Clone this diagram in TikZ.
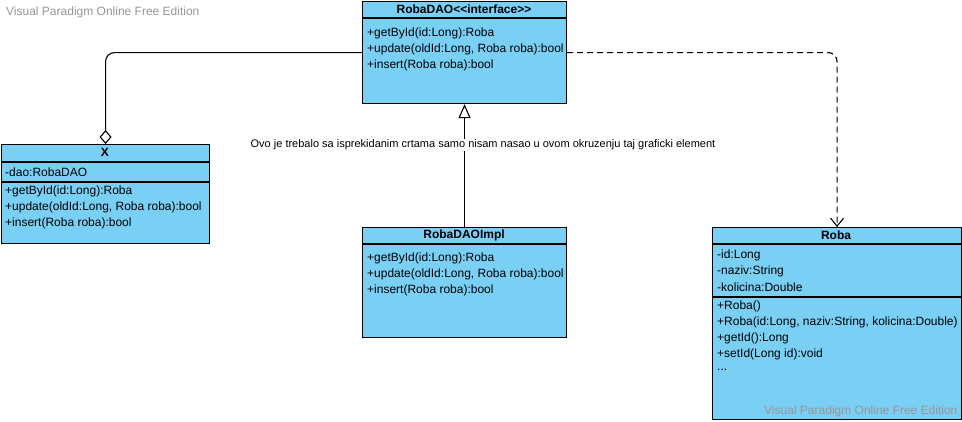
\documentclass[tikz,border=0pt]{standalone}
\usepackage{fontspec}
\setmainfont{Liberation Sans}
\usepackage{tikz}
\usetikzlibrary{arrows.meta,positioning}
\definecolor{classblue}{RGB}{122,207,245}
\definecolor{markgray}{RGB}{150,150,150}

\begin{document}
\begin{tikzpicture}[x=1pt,
            y=-1pt,
            classbox/.style={draw,line width=1.1pt,fill=classblue,anchor=north west,inner sep=0pt},
            classname/.style={font=\fontsize{12}{14}\selectfont\bfseries,inner sep=0pt},
            member/.style={font=\fontsize{12}{14}\selectfont,anchor=west,inner sep=0pt},
            divider/.style={line width=1.1pt},
            note/.style={font=\fontsize{11}{13}\selectfont,fill=white,inner sep=1pt},
            watermark/.style={font=\fontsize{12}{14}\selectfont,text=markgray,anchor=west,inner sep=0pt}]

        \useasboundingbox (0,0) rectangle (962,421);

        \node[watermark] (mark1) at (6,12) {Visual Paradigm Online Free Edition};

        % classes
        \node[classbox,minimum width=204pt,minimum height=102pt] (dao)  at (362,1)   {};
        \node[classbox,minimum width=208pt,minimum height=99pt]  (x)    at (1,144)   {};
        \node[classbox,minimum width=204pt,minimum height=110pt] (impl) at (362,227) {};
        \node[classbox,minimum width=249pt,minimum height=192pt] (roba) at (712,227) {};

        \draw[divider] (362,18)  -- (566,18);
        \draw[divider] (1,162)   -- (209,162);
        \draw[divider] (1,182)   -- (209,182);
        \draw[divider] (362,244) -- (566,244);
        \draw[divider] (712,244) -- (961,244);
        \draw[divider] (712,297) -- (961,297);

        \node[classname] (daoname)  at (464,9)   {RobaDAO<\kern0pt<interface>\kern0pt>};
        \node[classname] (xname)    at (105,152) {X};
        \node[classname] (implname) at (464,235) {RobaDAOImpl};
        \node[classname] (robaname) at (836,235) {Roba};

        \node[member] (dao1) at (367,33) {+getById(id:Long):Roba};
        \node[member] (dao2) at (367,49) {+update(oldId:Long, Roba roba):bool};
        \node[member] (dao3) at (367,65) {+insert(Roba roba):bool};

        \node[member] (x0) at (5,172) {-dao:RobaDAO};
        \node[member] (x1) at (5,191) {+getById(id:Long):Roba};
        \node[member] (x2) at (5,207) {+update(oldId:Long, Roba roba):bool};
        \node[member] (x3) at (5,223) {+insert(Roba roba):bool};

        \node[member] (impl1) at (367,258) {+getById(id:Long):Roba};
        \node[member] (impl2) at (367,274) {+update(oldId:Long, Roba roba):bool};
        \node[member] (impl3) at (367,290) {+insert(Roba roba):bool};

        \node[member] (roba0) at (717,255) {-id:Long};
        \node[member] (roba1) at (717,271) {-naziv:String};
        \node[member] (roba2) at (717,287) {-kolicina:Double};
        \node[member] (roba3) at (717,306) {+Roba()};
        \node[member] (roba4) at (717,322) {+Roba(id:Long, naziv:String, kolicina:Double)};
        \node[member] (roba5) at (717,338) {+getId():Long};
        \node[member] (roba6) at (717,354) {+setId(Long id):void};
        \node[member] (roba7) at (717,370) {...};

        \node[watermark] (mark2) at (764,411) {Visual Paradigm Online Free Edition};

        % relations
        \draw[line width=1.1pt,rounded corners=9pt,{Diamond[open,length=14pt,width=12pt]}-]
            (x.north) |- (dao.west);
        \draw[line width=1.1pt,dash pattern=on 6pt off 4pt,rounded corners=9pt,-{Straight Barb[length=8pt,width=13pt]}]
            (dao.east) -| (roba.north);
        \draw[line width=1.1pt,-{Triangle[open,length=14pt,width=12pt]}]
            (impl.north) -- (dao.south);

        \node[note] (remark) at (483,145) {Ovo je trebalo sa isprekidanim crtama samo nisam nasao u ovom okruzenju taj graficki element};

    \end{tikzpicture}
\end{document}
